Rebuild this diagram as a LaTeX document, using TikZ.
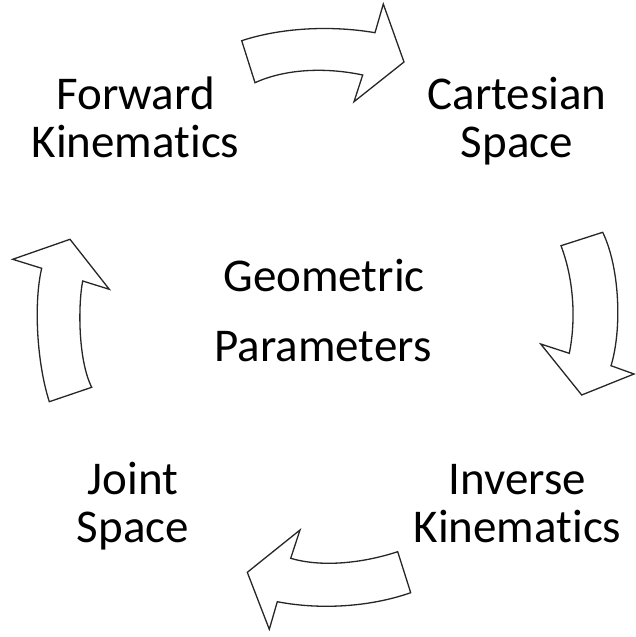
\documentclass[tikz,border=0pt]{standalone}
\usepackage{fontspec}
\setmainfont{Carlito}[Ligatures={NoCommon}]
\begin{document}
\begin{tikzpicture}[x=1pt,y=-1pt,
  bigarrow/.style={draw=black!85,line width=1.3pt,fill=white,line join=miter},
  lbl/.style={font=\fontsize{47}{47.5}\selectfont,align=center,inner sep=0pt,anchor=base}]
\useasboundingbox (0,0) rectangle (635,637);
% top arrow
\draw[bigarrow] (241.7,40.7) .. controls (280,28) and (330,25) .. (375,32.7)
  -- (383.3,4) -- (404,62) -- (354,101.7) -- (362.7,75)
  .. controls (325,67) and (285,69) .. (255,82.7) -- cycle;
% right arrow
\draw[bigarrow] (561,245.7) -- (602.7,232.3) .. controls (620,268) and (622,330) .. (611,365.7)
  -- (634,374) -- (581.7,395) -- (540.7,344) -- (569.3,353.3)
  .. controls (576,320) and (574,280) .. (561,245.7) -- cycle;
% bottom arrow
\draw[bigarrow] (397.7,551.7) .. controls (360,564) and (320,567) .. (290.7,558.3)
  -- (300,530) -- (247.3,572.3) -- (269.3,629.3) -- (277.3,601.7)
  .. controls (320,610) and (370,607) .. (410.7,592.7) -- cycle;
% left arrow
\draw[bigarrow] (49.3,401.7) -- (91.7,387.3) .. controls (78,360) and (78,305) .. (82.7,281)
  -- (109.3,289.3) -- (70,239.3) -- (12.7,259.3) -- (41.7,268.3)
  .. controls (34,300) and (36,360) .. (49.3,401.7) -- cycle;
% labels
\node[lbl] (fk) at (135.5,157.3) {Forward\\Kinematics};
\node[lbl] (cs) at (517,157) {Cartesian\\Space};
\node[lbl] (js) at (133,542.3) {Joint\\Space};
\node[lbl] (ik) at (517.5,542) {Inverse\\Kinematics};
\node[lbl] (gp1) at (324,291.7) {Geometric};
\node[lbl] (gp2) at (323,361.7) {Parameters};
\end{tikzpicture}
\end{document}
